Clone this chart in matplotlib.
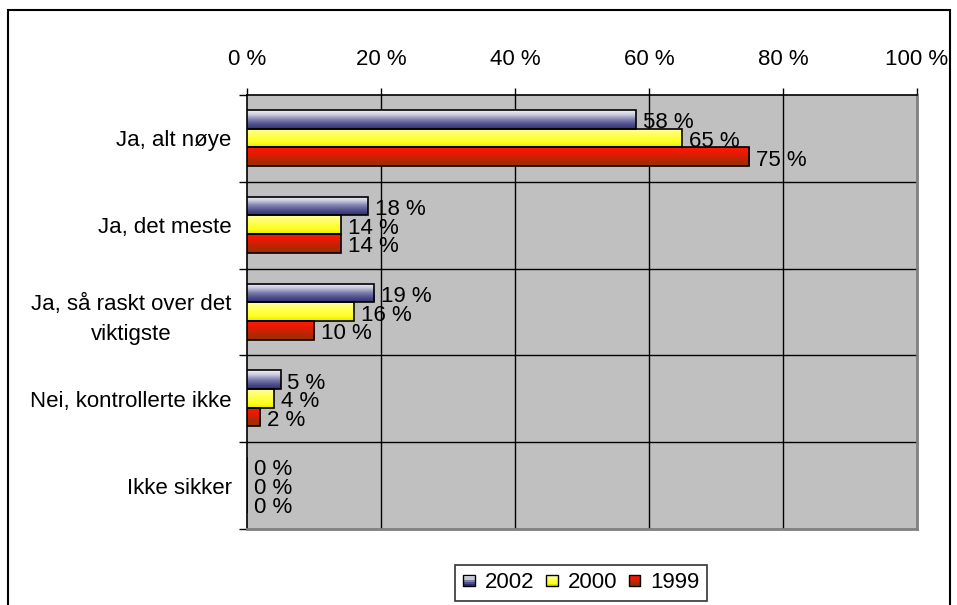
import numpy as np
import matplotlib
matplotlib.use("Agg")
import matplotlib.pyplot as plt
from matplotlib.patches import Rectangle
from matplotlib.colors import LinearSegmentedColormap
from matplotlib.legend_handler import HandlerBase

plt.rcParams["font.family"] = ["Liberation Sans", "DejaVu Sans"]

# ---- data ----
categories = ["Ja, alt nøye", "Ja, det meste", "Ja, så raskt over det\nviktigste",
              "Nei, kontrollerte ikke", "Ikke sikker"]
series_names = ["2002", "2000", "1999"]
v2002 = [58, 18, 19, 5, 0]
v2000 = [65, 14, 16, 4, 0]
v1999 = [75, 14, 10, 2, 0]
x_ticks = [0, 20, 40, 60, 80, 100]

# gradient colours, top -> bottom of each bar
GRADIENTS = {
    "2002": ["#f4f4f8", "#c8c8dc", "#8080b0", "#50508c", "#303070"],
    "2000": ["#ffffa0", "#ffff70", "#ffff40", "#ffff20", "#e8e800"],
    "1999": ["#ff1a00", "#f01800", "#d02000", "#b02800", "#983000"],
}
FS = 16

W, H = 957, 605
fig = plt.figure(figsize=(W / 100, H / 100), dpi=100)

# outer chart border
fig.patches.append(Rectangle((8 / W, -0.05), (950 - 8) / W, 1.05 - 10 / H,
                             transform=fig.transFigure, fill=False,
                             edgecolor="black", linewidth=1.5))

ax = fig.add_axes([247 / W, 1 - 529 / H, (917 - 247) / W, (529 - 95) / H])
ax.set_facecolor("#c0c0c0")

n = len(categories)
centers = np.arange(n) + 0.495
bar_h = 0.215
offsets = [-bar_h, 0, bar_h]

for name, vals, off in zip(series_names, [v2002, v2000, v1999], offsets):
    cmap = LinearSegmentedColormap.from_list(name, GRADIENTS[name])
    grad = np.linspace(0, 1, 64).reshape(-1, 1)
    bars = ax.barh(centers + off, vals, height=bar_h, facecolor="none",
                   edgecolor="black", linewidth=1.2, zorder=4)
    for b, v in zip(bars, vals):
        x0, y0, w, h = b.get_x(), b.get_y(), b.get_width(), b.get_height()
        if w > 0:
            im = ax.imshow(grad, cmap=cmap, aspect="auto", origin="upper",
                           extent=(x0, x0 + w, y0 + h, y0), zorder=3,
                           interpolation="bilinear")
            im.set_clip_path(b)
        ax.annotate(f"{v} %", (v, b.get_y() + h / 2), xytext=(5, -2.5),
                    textcoords="offset points", ha="left", va="center",
                    fontsize=FS, zorder=5)

ax.set_xlim(0, 100)
ax.set_ylim(n, 0)

# x axis on top
ax.xaxis.tick_top()
ax.set_xticks(x_ticks)
ax.set_xticklabels([f"{t} %" for t in x_ticks], fontsize=FS)
ax.tick_params(axis="x", direction="out", length=5, width=1, pad=13)

# y axis: ticks at category boundaries, labels in the middle
ax.set_yticks(np.arange(n + 1))
ax.set_yticklabels([])
ax.set_yticks(np.arange(n) + 0.5, minor=True)
ax.set_yticklabels(categories, minor=True, fontsize=FS, multialignment="center",
                   linespacing=1.6)
ax.tick_params(axis="y", which="major", direction="out", length=6, width=1)
ax.tick_params(axis="y", which="minor", length=0, pad=11)

# grid
for t in x_ticks[1:-1]:
    ax.axvline(t, color="black", linewidth=1, zorder=1)
for t in range(1, n):
    ax.axhline(t, color="black", linewidth=1, zorder=1)

for s in ["left", "top"]:
    ax.spines[s].set_color("black")
    ax.spines[s].set_linewidth(1.2)
for s in ["right", "bottom"]:
    ax.spines[s].set_color("#808080")
    ax.spines[s].set_linewidth(2)


class GradientHandler(HandlerBase):
    def create_artists(self, legend, orig_handle, xdescent, ydescent,
                       width, height, fontsize, trans):
        cols = GRADIENTS[orig_handle.get_label()]
        side = min(width, height) * 0.85
        x0 = xdescent + (width - side) / 2
        y0 = -ydescent + (height - side) / 2
        arts = []
        k = len(cols)
        for i, c in enumerate(cols):
            arts.append(Rectangle((x0, y0 + side * (k - 1 - i) / k), side, side / k,
                                  facecolor=c, edgecolor="none", transform=trans))
        arts.append(Rectangle((x0, y0), side, side, facecolor="none",
                              edgecolor="black", linewidth=1, transform=trans))
        return arts


handles = [Rectangle((0, 0), 1, 1, label=nm) for nm in series_names]
leg = fig.legend(handles, series_names, handler_map={Rectangle: GradientHandler()},
                 loc="center", bbox_to_anchor=(581 / W, 1 - 583 / H), ncol=3,
                 fontsize=FS, frameon=True, fancybox=False, edgecolor="black",
                 handlelength=0.6, handletextpad=0.4, columnspacing=0.5,
                 borderpad=0.35)
leg.get_frame().set_linewidth(1.2)

fig.savefig("out.png", dpi=100)
